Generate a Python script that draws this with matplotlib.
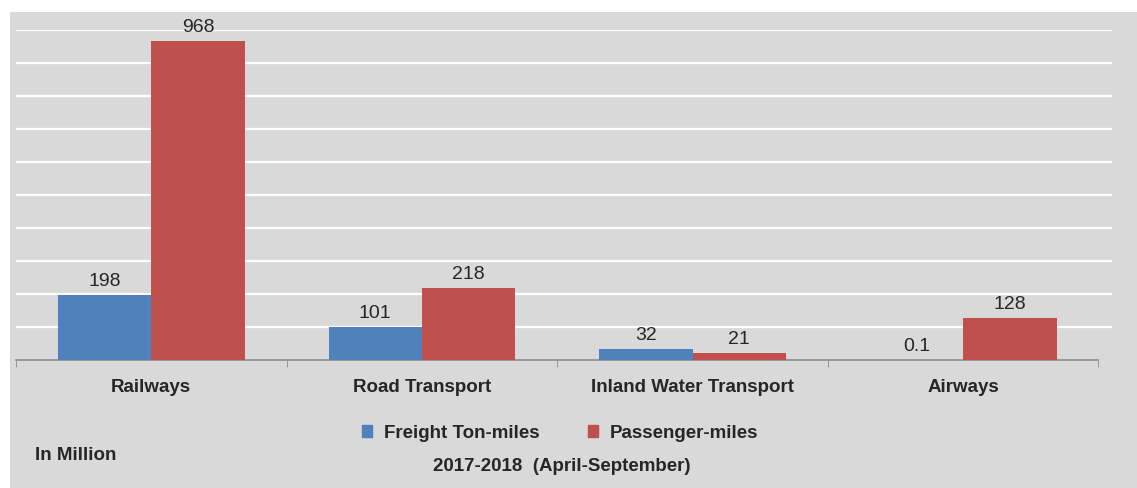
import matplotlib
matplotlib.use("Agg")
import matplotlib.pyplot as plt
from matplotlib.patches import Rectangle, Patch
import numpy as np

categories = ["Railways", "Road Transport", "Inland Water Transport", "Airways"]
freight = [198, 101, 32, 0.1]
passenger = [968, 218, 21, 128]
freight_labels = ["198", "101", "32", "0.1"]
passenger_labels = ["968", "218", "21", "128"]

blue = "#4f81bd"
red = "#c0504d"
bg = "#d9d9d9"
txt = "#262626"

plt.rcParams["font.family"] = ["Liberation Sans", "DejaVu Sans"]

fig = plt.figure(figsize=(11.37, 4.89), dpi=100)
fig.patch.set_facecolor("white")
# grey chart area with thin white margin on the left and top
fig.add_artist(Rectangle((10 / 1137, 0), 1, 1 - 13 / 489,
                         transform=fig.transFigure, facecolor=bg,
                         edgecolor="none", zorder=0))

ax = fig.add_axes([16 / 1137, 1 - 361 / 489, 1096 / 1137, 330 / 489])
ax.set_facecolor(bg)
ax.patch.set_alpha(0)

x = np.arange(len(categories))
w = 0.345
b1 = ax.bar(x - w / 2, freight, w, color=blue, zorder=3)
b2 = ax.bar(x + w / 2, passenger, w, color=red, zorder=3)

for bars, labels in ((b1, freight_labels), (b2, passenger_labels)):
    for rect, lab in zip(bars, labels):
        ax.text(rect.get_x() + rect.get_width() / 2, rect.get_height() + 18, lab,
                ha="center", va="bottom", fontsize=14, color=txt)

# gridlines run a little past the last category tick
ax.set_xlim(-0.5, 3.55)
ax.set_ylim(0, 1000)
ax.set_yticks(np.arange(100, 1001, 100))
ax.yaxis.grid(True, color="white", linewidth=1.6, zorder=1)
ax.tick_params(axis="y", left=False, labelleft=False)

ax.set_xticks(np.arange(-0.5, 4, 1), minor=True)
ax.set_xticks(x)
ax.set_xticklabels(categories, fontsize=13.5, fontweight="bold", color=txt)
ax.tick_params(axis="x", which="major", length=0, pad=13)
ax.tick_params(axis="x", which="minor", length=5, color="#8c8c8c", direction="out")

for s in ("top", "right", "left"):
    ax.spines[s].set_visible(False)
ax.spines["bottom"].set_color("#8c8c8c")
ax.spines["bottom"].set_linewidth(1.2)
ax.spines["bottom"].set_bounds(-0.5, 3.5)

handles = [Patch(color=blue, label="Freight Ton-miles"),
           Patch(color=red, label="Passenger-miles")]
fig.legend(handles=handles, loc="center", bbox_to_anchor=(560 / 1137, 1 - 434 / 489),
           ncol=2, frameon=False, handlelength=0.55, handleheight=0.55,
           handletextpad=0.6, columnspacing=2.6,
           prop={"size": 13.5, "weight": "bold"}, labelcolor=txt)

fig.text(35 / 1137, 1 - 456 / 489, "In Million", fontsize=13.5, fontweight="bold",
         color=txt, ha="left", va="center")
fig.text(562 / 1137, 1 - 467 / 489, "2017-2018  (April-September)", fontsize=13.5,
         fontweight="bold", color=txt, ha="center", va="center")

fig.savefig("out.png", dpi=100, facecolor=fig.get_facecolor())
